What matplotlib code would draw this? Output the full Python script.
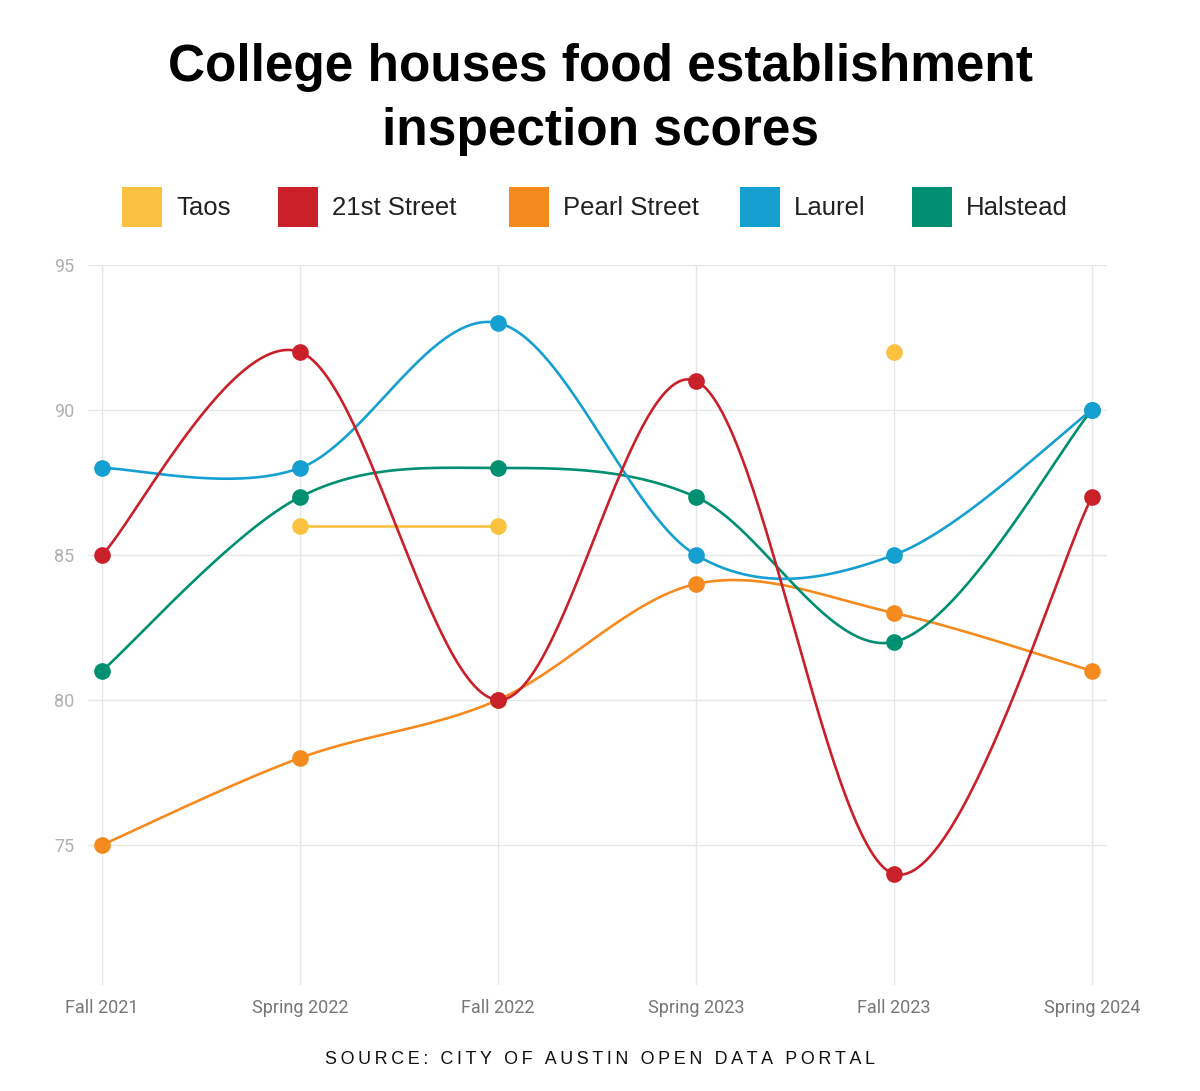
import numpy as np
import matplotlib
matplotlib.use("Agg")
import matplotlib.pyplot as plt
from matplotlib.patches import Rectangle

# ---------------- data ----------------
terms = ["Fall 2021", "Spring 2022", "Fall 2022", "Spring 2023", "Fall 2023", "Spring 2024"]
series_names = ["Taos", "21st Street", "Pearl Street", "Laurel", "Halstead"]
taos = [np.nan, 86, 86, np.nan, 92, np.nan]
street_21st = [85, 92, 80, 91, 74, 87]
pearl_street = [75, 78, 80, 84, 83, 81]
laurel = [88, 88, 93, 85, 85, 90]
halstead = [81, 87, 88, 87, 82, 90]
y_ticks = [75, 80, 85, 90, 95]

colors = {
    "Taos": "#FBC140",
    "21st Street": "#C9202A",
    "Pearl Street": "#F58B1F",
    "Laurel": "#169FD1",
    "Halstead": "#008F70",
}
values = {
    "Taos": taos,
    "21st Street": street_21st,
    "Pearl Street": pearl_street,
    "Laurel": laurel,
    "Halstead": halstead,
}


def cardinal_path(xs, ys, n=60):
    """d3 curveCardinal (tension 0) path through the given points."""
    pts = list(zip(xs, ys))
    if len(pts) < 3:
        return np.array(xs, float), np.array(ys, float)
    ext = [pts[0]] + pts + [pts[-1]]
    outx, outy = [], []
    k = 1.0 / 6.0
    for i in range(1, len(ext) - 2):
        p0, p1, p2, p3 = ext[i - 1], ext[i], ext[i + 1], ext[i + 2]
        c1 = (p1[0] + k * (p2[0] - p0[0]), p1[1] + k * (p2[1] - p0[1]))
        c2 = (p2[0] - k * (p3[0] - p1[0]), p2[1] - k * (p3[1] - p1[1]))
        t = np.linspace(0, 1, n)
        b0 = (1 - t) ** 3
        b1 = 3 * (1 - t) ** 2 * t
        b2 = 3 * (1 - t) * t ** 2
        b3 = t ** 3
        outx.extend(b0 * p1[0] + b1 * c1[0] + b2 * c2[0] + b3 * p2[0])
        outy.extend(b0 * p1[1] + b1 * c1[1] + b2 * c2[1] + b3 * p2[1])
    return np.array(outx), np.array(outy)


W, H = 1200, 1091
fig = plt.figure(figsize=(W / 100, H / 100), dpi=100)
fig.patch.set_facecolor("white")
renderer = fig.canvas.get_renderer()


def fit_width(txt, target_px):
    w = txt.get_window_extent(renderer=renderer).width
    if w > 0:
        txt.set_fontsize(txt.get_fontsize() * target_px / w)


ax_left, ax_right = 88 / W, 1107 / W
ax_top, ax_bot = 1 - 265 / H, 1 - 985 / H
ax = fig.add_axes([ax_left, ax_bot, ax_right - ax_left, ax_top - ax_bot])

x = np.arange(len(terms))
ax.set_xlim(-0.071, 5.076)
ax.set_ylim(70.17, 95)

for s in ax.spines.values():
    s.set_visible(False)
ax.set_xticks(x)
ax.set_xticklabels(terms)
ax.set_yticks(y_ticks)
ax.set_yticklabels([str(v) for v in y_ticks])
ax.tick_params(axis="both", length=0)
ax.tick_params(axis="x", pad=10, labelsize=13, labelcolor="#777777")
ax.tick_params(axis="y", pad=10, labelsize=13, labelcolor="#b0b0b0")
for lab in ax.get_xticklabels() + ax.get_yticklabels():
    lab.set_fontfamily(["Roboto", "DejaVu Sans"])

ax.grid(True, color="#e6e6e6", linewidth=1.0)
ax.set_axisbelow(True)

z = {"Taos": 3, "Pearl Street": 4, "Halstead": 5, "Laurel": 6, "21st Street": 7}
for name in ["Taos", "Pearl Street", "Halstead", "Laurel", "21st Street"]:
    vals = np.array(values[name], dtype=float)
    c = colors[name]
    runs, cur = [], []
    for xi, v in zip(x, vals):
        if np.isnan(v):
            if cur:
                runs.append(cur)
            cur = []
        else:
            cur.append((xi, v))
    if cur:
        runs.append(cur)
    for run in runs:
        rx = [p[0] for p in run]
        ry = [p[1] for p in run]
        if len(run) >= 2:
            px, py = cardinal_path(rx, ry)
            ax.plot(px, py, color=c, lw=1.9, zorder=z[name], clip_on=False,
                    solid_capstyle="round")
    mask = ~np.isnan(vals)
    ax.plot(x[mask], vals[mask], "o", color=c, markersize=12,
            markeredgewidth=0, zorder=z[name] + 0.5, clip_on=False)

# ---------------- title ----------------
title_font = ["Liberation Sans", "DejaVu Sans"]
t1 = fig.text(0.5, 1 - 68 / H, "College houses food establishment", ha="center",
              va="center", fontsize=37, fontweight="bold", family=title_font,
              color="#000000")
fit_width(t1, 865)
fig.text(0.5, 1 - 131 / H, "inspection scores", ha="center", va="center",
         fontsize=t1.get_fontsize(), fontweight="bold", family=title_font,
         color="#000000")

# ---------------- legend ----------------
leg_x = [122, 278, 509, 740, 912]
for name, lx in zip(series_names, leg_x):
    fig.patches.append(Rectangle((lx / W, 1 - 227 / H), 40 / W, 40 / H,
                                 transform=fig.transFigure,
                                 facecolor=colors[name], edgecolor="none"))
    fig.text((lx + 54) / W, 1 - 208 / H, name, ha="left", va="center",
             fontsize=18.5, family=title_font, color="#222222")

# ---------------- source ----------------
src = "SOURCE: CITY OF AUSTIN OPEN DATA PORTAL"
spaced = "\u2009".join(list(src))
ts = fig.text(0.5, 1 - 1059 / H, spaced, ha="center", va="center", fontsize=13,
              family=title_font, color="#111111")
fit_width(ts, 547)

fig.savefig("out.png", dpi=100, facecolor="white")
